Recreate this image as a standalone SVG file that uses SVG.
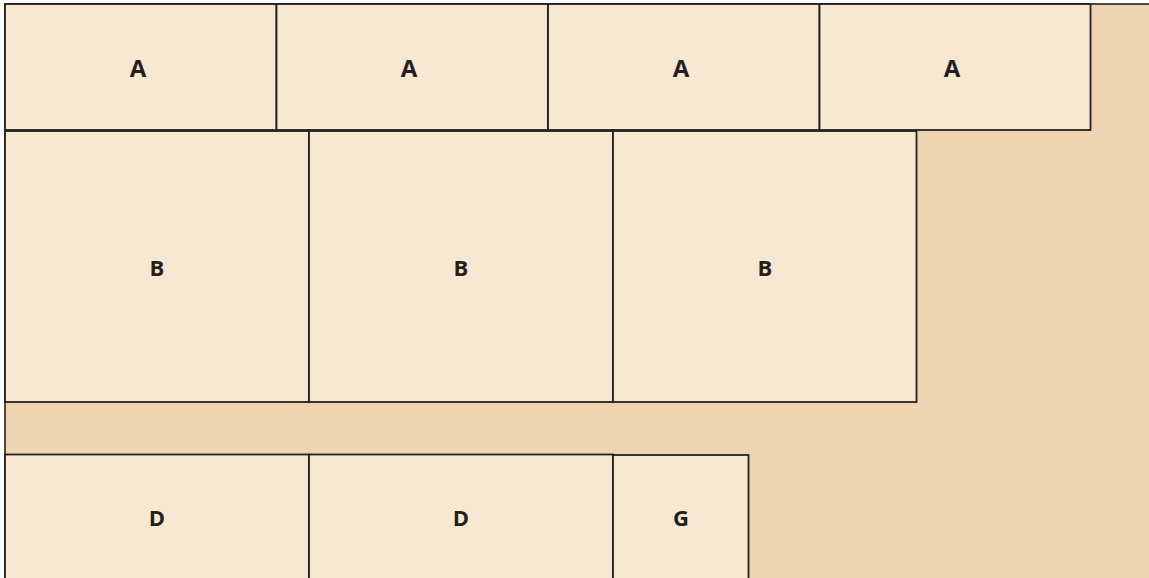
<svg xmlns="http://www.w3.org/2000/svg" width="1149" height="578" viewBox="0 0 1149 578">
<style>
.bg{fill:#EDD5B3;stroke:#231F20;stroke-width:1.6}
.n rect{fill:#F7E8D1;stroke:#231F20;stroke-width:1.8}
.n text{font-family:"Open Sans","Noto Sans",sans-serif;font-weight:700;fill:#231F20;text-anchor:middle}
.a text{font-size:24px}
.b text{font-size:22px}
</style>
<rect x="0" y="0" width="1149" height="578" fill="#ffffff"/>
<rect class="bg" x="5" y="4" width="1160" height="590"/>
<g id="A1" class="n a"><rect x="5" y="4" width="271.5" height="126"/><text x="138" y="77">A</text></g>
<g id="A2" class="n a"><rect x="276.5" y="4" width="271.5" height="126"/><text x="409" y="77">A</text></g>
<g id="A3" class="n a"><rect x="548" y="4" width="271.5" height="126"/><text x="681" y="77">A</text></g>
<g id="A4" class="n a"><rect x="819.5" y="4" width="271" height="126"/><text x="952" y="77">A</text></g>
<g id="B1" class="n b"><rect x="5" y="131" width="304" height="271"/><text x="157" y="276">B</text></g>
<g id="B2" class="n b"><rect x="309" y="131" width="304" height="271"/><text x="461" y="276">B</text></g>
<g id="B3" class="n b"><rect x="613" y="131" width="303.5" height="271"/><text x="765" y="276">B</text></g>
<g id="D1" class="n b"><rect x="5" y="454.5" width="304" height="140"/><text x="157" y="526">D</text></g>
<g id="D2" class="n b"><rect x="309" y="454.5" width="304" height="140"/><text x="461" y="526">D</text></g>
<g id="G1" class="n b"><rect x="613" y="455" width="135.5" height="140"/><text x="681" y="526">G</text></g>
<g id="connectors"></g>
</svg>
